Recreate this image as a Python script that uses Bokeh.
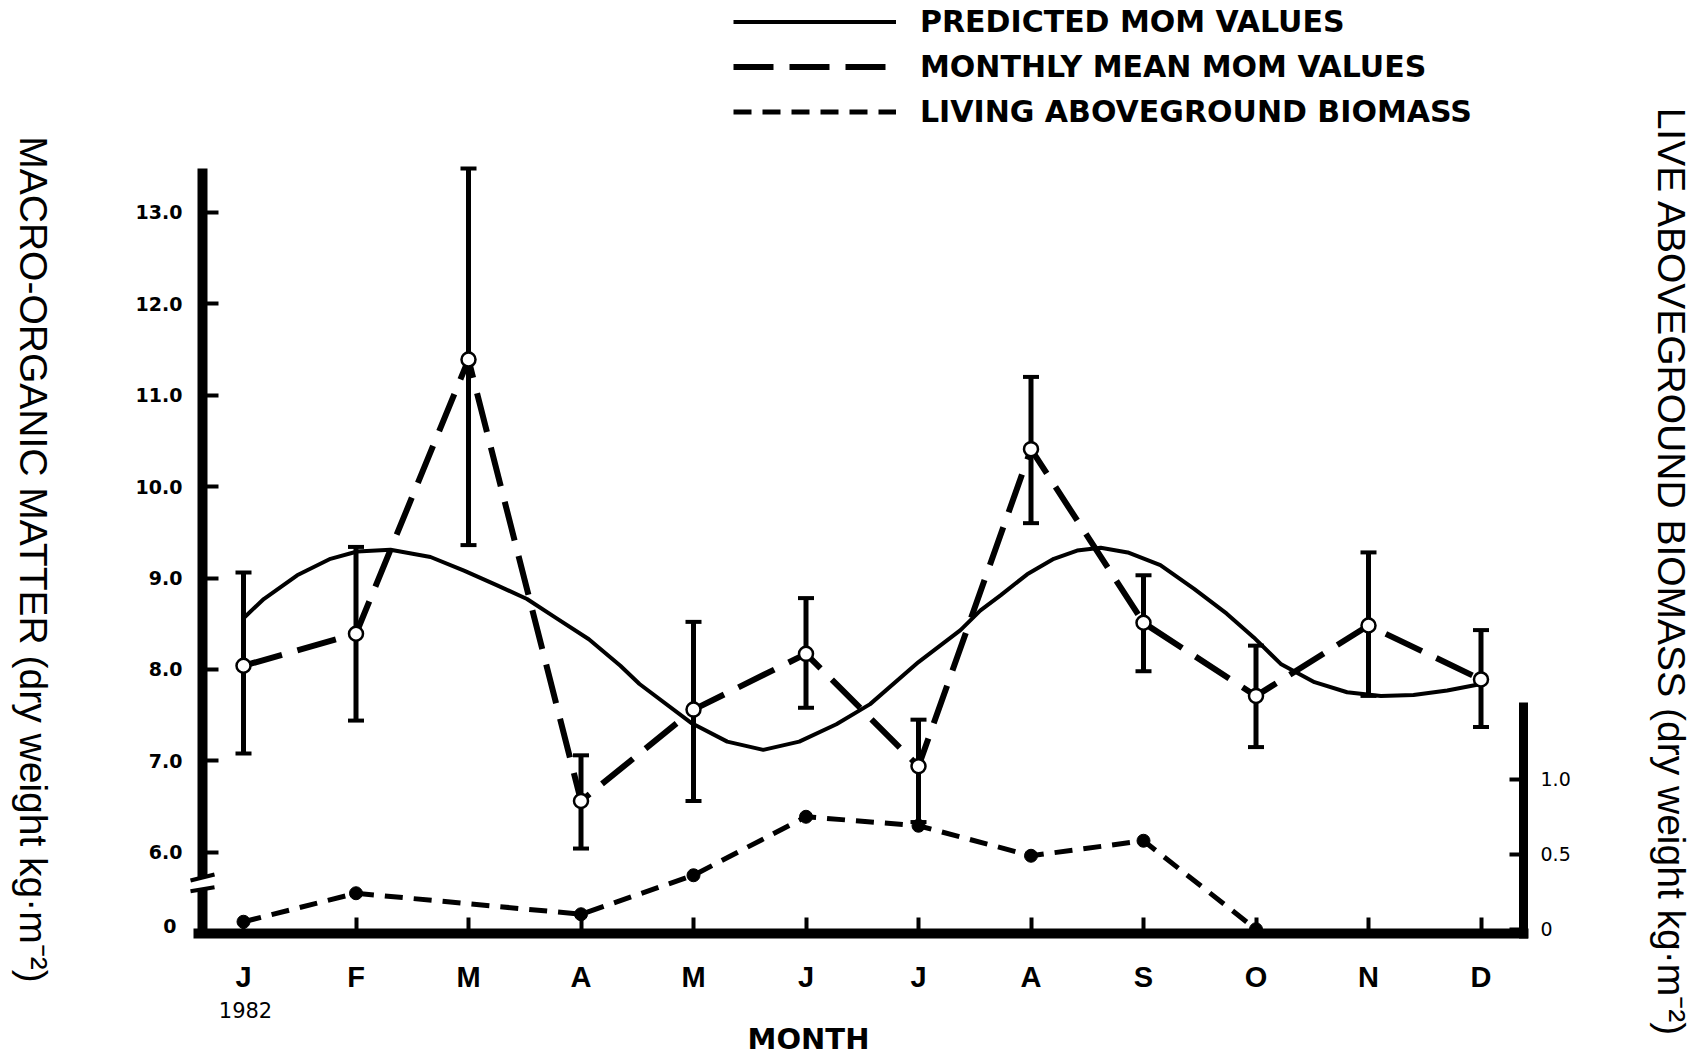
import math
from bokeh.plotting import figure
from bokeh.models import (Range1d, LinearAxis, FixedTicker, NumeralTickFormatter,
                          CustomJSTickFormatter, Whisker, TeeHead, ColumnDataSource,
                          Legend, LegendItem)
from bokeh.core.properties import value
from bokeh.embed import file_html
from bokeh.resources import INLINE

# ---------------- data ----------------
months = ["J", "F", "M", "A", "M", "J", "J", "A", "S", "O", "N", "D"]
month_idx = list(range(12))

mom_mean = [8.04, 8.39, 11.39, 6.56, 7.56, 8.17, 6.94, 10.41, 8.51, 7.71, 8.48, 7.89]
mom_upper = [9.06, 9.34, 13.48, 7.06, 8.52, 8.78, 7.45, 11.20, 9.03, 8.26, 9.28, 8.43]
mom_lower = [7.08, 7.44, 9.36, 6.04, 6.56, 7.58, 6.33, 9.60, 7.98, 7.15, 7.71, 7.37]

bio_idx = [0, 1, 3, 4, 5, 6, 7, 8, 9]
bio_val = [0.05, 0.24, 0.10, 0.36, 0.75, 0.69, 0.49, 0.59, 0.0]

pred_x = [0.0, 0.18, 0.477, 0.773, 1.01, 1.307, 1.662, 1.96, 2.255, 2.52, 2.77, 3.07,
          3.35, 3.52, 3.985, 4.30, 4.62, 4.94, 5.27, 5.57, 6.0, 6.373, 6.551, 6.729,
          6.966, 7.203, 7.41, 7.62, 7.86, 8.15, 8.45, 8.74, 8.98, 9.22, 9.52, 9.81,
          10.11, 10.40, 10.70, 11.0]
pred_y = [8.56, 8.77, 9.03, 9.21, 9.29, 9.31, 9.23, 9.08, 8.92, 8.77, 8.57, 8.33,
          8.04, 7.84, 7.41, 7.21, 7.12, 7.21, 7.40, 7.62, 8.08, 8.43, 8.645, 8.81,
          9.04, 9.21, 9.30, 9.33, 9.28, 9.14, 8.88, 8.61, 8.35, 8.06, 7.86, 7.75,
          7.71, 7.72, 7.77, 7.84]

left_ticks = [6, 7, 8, 9, 10, 11, 12, 13]
right_ticks = [0, 0.5, 1.0]

# ---------------- layout constants (page pixels) ----------------
W, H = 1700, 1058
JAN_PX = 243.0          # x pixel of January
PX_PER_MONTH = 112.5
MOM6_PX = 851.7         # y pixel of MOM = 6.0
PX_PER_MOM = 91.4
BIO0_PX = 928.75        # y pixel of biomass = 0
PX_PER_BIO = 150.0
FONT = "Liberation Sans"
FONT2 = "DejaVu Sans"


def dx(X):
    return (X - JAN_PX) / PX_PER_MONTH


def dy(Y):
    return 6.0 + (MOM6_PX - Y) / PX_PER_MOM


def dbio(Y):
    return (BIO0_PX - Y) / PX_PER_BIO


p = figure(width=W, height=H, output_backend="svg", toolbar_location=None, title=None,
           x_range=Range1d(dx(0), dx(W)), y_range=Range1d(dy(H), dy(0)),
           min_border=0, x_axis_location=None, y_axis_location=None)
p.extra_y_ranges = {"bio": Range1d(dbio(H), dbio(0))}
p.xgrid.visible = False
p.ygrid.visible = False
p.outline_line_color = None
p.background_fill_color = "white"
p.border_fill_color = "white"

SPINE_X = dx(202)
BREAK_HI, BREAK_LO = 5.723, 5.593

# bottom axis (months)
xa = LinearAxis(ticker=FixedTicker(ticks=month_idx),
                major_label_overrides={i: m for i, m in enumerate(months)},
                fixed_location=dy(933), bounds=(dx(193), dx(1528)))
xa.axis_line_width = 10
xa.axis_line_color = "black"
xa.major_tick_in = 16
xa.major_tick_out = 0
xa.major_tick_line_width = 4
xa.minor_tick_line_color = None
xa.major_label_text_font = FONT
xa.major_label_text_font_size = "29px"
xa.major_label_text_font_style = "bold"
xa.major_label_text_color = "black"
xa.major_label_standoff = 27
p.add_layout(xa, "below")

# left axis (MOM), upper part above the break
ya = LinearAxis(ticker=FixedTicker(ticks=left_ticks),
                formatter=NumeralTickFormatter(format="0.0"),
                fixed_location=SPINE_X, bounds=(BREAK_HI, 13.48))
ya.axis_line_width = 10
ya.axis_line_color = "black"
ya.axis_line_cap = "butt"
ya.major_tick_in = 16
ya.major_tick_out = 0
ya.major_tick_line_width = 4
ya.minor_tick_line_color = None
ya.major_label_text_font = FONT2
ya.major_label_text_font_size = "19px"
ya.major_label_text_font_style = "bold"
ya.major_label_text_color = "black"
ya.major_label_standoff = 20
p.add_layout(ya, "left")

# right axis (biomass)
ra = LinearAxis(y_range_name="bio", ticker=FixedTicker(ticks=right_ticks),
                formatter=CustomJSTickFormatter(code="return tick == 0 ? '0' : tick.toFixed(1)"),
                fixed_location=dx(1523), bounds=(dbio(938), 1.515))
ra.axis_line_width = 9
ra.axis_line_color = "black"
ra.major_tick_in = 14
ra.major_tick_out = 0
ra.major_tick_line_width = 4
ra.minor_tick_line_color = None
ra.major_label_text_font = FONT2
ra.major_label_text_font_size = "19px"
ra.major_label_text_color = "black"
ra.major_label_standoff = 17
p.add_layout(ra, "right")

# lower piece of the left spine and the two break strokes
p.segment(x0=[SPINE_X], y0=[dy(933)], x1=[SPINE_X], y1=[BREAK_LO],
          line_width=10, line_color="black", line_cap="butt")
p.segment(x0=[dx(190), dx(190)], y0=[dy(880), dy(890.7)],
          x1=[dx(214), dx(214)], y1=[dy(874), dy(886.7)],
          line_width=4, line_color="black")

# series
pred = p.line(pred_x, pred_y, line_width=4, line_color="black", line_join="round")
mean_line = p.line(month_idx, mom_mean, line_width=6, line_color="black", line_dash="40 16")
bio_line = p.line(bio_idx, bio_val, y_range_name="bio", line_width=5, line_color="black",
                  line_dash="18 11")

src = ColumnDataSource(dict(x=month_idx, upper=mom_upper, lower=mom_lower))
p.add_layout(Whisker(source=src, base="x", upper="upper", lower="lower",
                     line_width=5, line_color="black",
                     upper_head=TeeHead(size=16, line_width=4, line_color="black"),
                     lower_head=TeeHead(size=16, line_width=4, line_color="black")))

p.scatter(month_idx, mom_mean, size=14, fill_color="white", line_color="black", line_width=2.5)
p.scatter(bio_idx, bio_val, y_range_name="bio", size=13, fill_color="black", line_color="black")

# legend (top edge at y=4 px)
LEG_H = 3 * 35 + 2 * 10
legend = Legend(items=[LegendItem(label="PREDICTED MOM VALUES", renderers=[pred]),
                       LegendItem(label="MONTHLY MEAN MOM VALUES", renderers=[mean_line]),
                       LegendItem(label="LIVING ABOVEGROUND BIOMASS", renderers=[bio_line])],
                location=(733, H - 4 - LEG_H), orientation="vertical",
                glyph_width=163, glyph_height=35, label_height=35, label_standoff=24,
                spacing=10, padding=0, margin=0, border_line_color=None,
                background_fill_alpha=0, label_text_font=FONT2, label_text_font_size="30px",
                label_text_font_style="bold", label_text_color="black")
p.add_layout(legend)


def add_text(text, X, Y, size, style="normal", angle=0.0, align="center", font=FONT):
    p.text(x=[dx(X)], y=[dy(Y)], text=[text], text_font=value(font), text_font_size=size,
           text_font_style=style, text_align=align, text_baseline="middle", angle=angle,
           text_color="black")


add_text("MACRO-ORGANIC MATTER (dry weight kg·m⁻²)", 33, 559, "39px", angle=-math.pi / 2)
add_text("LIVE ABOVEGROUND BIOMASS (dry weight kg·m⁻²)", 1671, 572, "39px", angle=-math.pi / 2)
add_text("1982", 245, 1009, "21px", font=FONT2)
add_text("MONTH", 808, 1038, "29px", style="bold", font=FONT2)
add_text("0", 176, 925, "19px", style="bold", align="right", font=FONT2)

open("out.html", "w").write(file_html(p, INLINE))
